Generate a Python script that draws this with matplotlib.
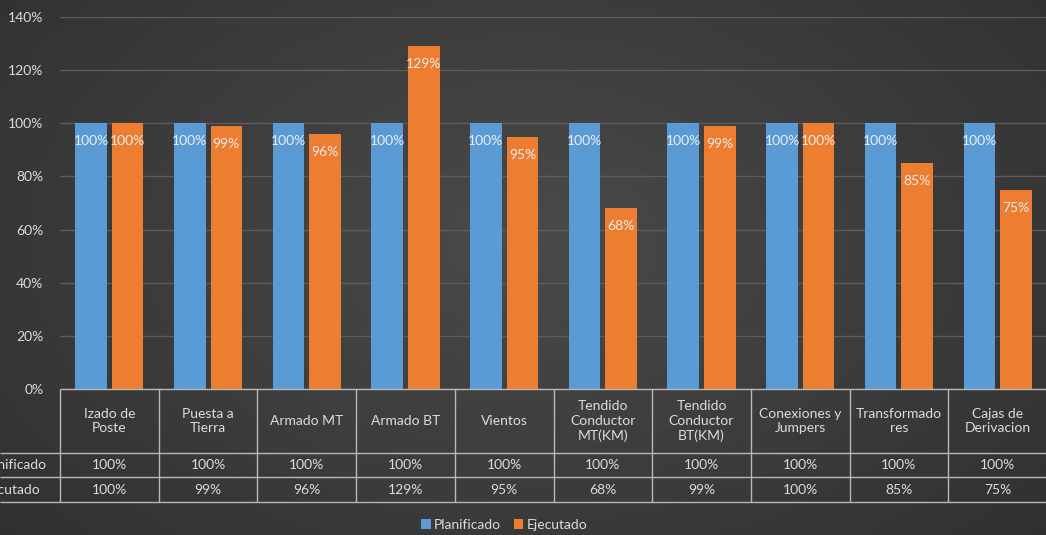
import matplotlib.pyplot as plt
import numpy as np

categories = ['Izado de\nPoste', 'Puesta a\nTierra', 'Armado MT', 'Armado BT', 'Vientos',
              'Tendido\nConductor\nMT(KM)', 'Tendido\nConductor\nBT(KM)', 'Conexiones y\nJumpers',
              'Transformado\nres', 'Cajas de\nDerivacion']
planificado = [1.00, 1.00, 1.00, 1.00, 1.00, 1.00, 1.00, 1.00, 1.00, 1.00]
ejecutado = [1.00, 0.99, 0.96, 1.29, 0.95, 0.68, 0.99, 1.00, 0.85, 0.75]
series_names = ['Planificado', 'Ejecutado']
y_ticks = [0, 0.2, 0.4, 0.6, 0.8, 1.0, 1.2, 1.4]

BLUE = '#5b9bd5'
ORANGE = '#ed7d31'
TXT = '#dcdcdc'
GRID = '#5c5c5c'
LINE = '#b8b8b8'

plt.rcParams['font.family'] = ['Lato', 'DejaVu Sans']
plt.rcParams['font.size'] = 10

W, H = 1046, 535
fig = plt.figure(figsize=(W / 100, H / 100), dpi=100)

# dark radial background
bg = fig.add_axes([0, 0, 1, 1], zorder=-10)
yy, xx = np.mgrid[0:H, 0:W]
r = np.sqrt(((xx - W * 0.5) / (W * 0.6)) ** 2 + ((yy - H * 0.45) / (H * 0.75)) ** 2)
shade = np.clip(0.29 - 0.09 * r, 0.18, 0.3)
bg.imshow(np.dstack([shade] * 3), aspect='auto', extent=[0, 1, 0, 1])
bg.axis('off')

# main chart
left = 60 / W
width = 987 / W
ax = fig.add_axes([left, 146 / H, width, 372 / H])
ax.patch.set_alpha(0)
x = np.arange(len(categories))
bw = 0.32
off = 0.185
b1 = ax.bar(x - off, planificado, bw, color=BLUE, zorder=3, label=series_names[0])
b2 = ax.bar(x + off, ejecutado, bw, color=ORANGE, zorder=3, label=series_names[1])
for bars, vals in ((b1, planificado), (b2, ejecutado)):
    for rect, v in zip(bars, vals):
        ax.annotate(f'{v:.0%}', (rect.get_x() + rect.get_width() / 2, v),
                    xytext=(0, -13), textcoords='offset points', ha='center', va='center',
                    color='#ececec', fontsize=10, zorder=4)
ax.set_xlim(-0.5, len(categories) - 0.5)
ax.set_ylim(0, 1.4)
ax.set_yticks(y_ticks)
ax.set_yticklabels([f'{t:.0%}' for t in y_ticks], color=TXT)
ax.tick_params(axis='y', length=0, pad=12)
ax.set_xticks([])
ax.grid(axis='y', color=GRID, linewidth=1, zorder=0)
for s in ax.spines.values():
    s.set_visible(False)

# data table
tb = fig.add_axes([left, 33 / H, width, 113 / H])
tb.patch.set_alpha(0)
tb.set_xlim(0, len(categories))
tb.set_ylim(113, 0)
tb.axis('off')
lw = 1.0
row_y = [0, 64, 88, 113]
label_x = -60 / 98.7
tb.hlines(row_y[0], 0, len(categories), color=LINE, lw=lw, clip_on=False)
for yv in row_y[1:]:
    tb.hlines(yv, label_x, len(categories), color=LINE, lw=lw, clip_on=False)
tb.vlines(np.arange(len(categories) + 1), row_y[0], row_y[-1], color=LINE, lw=lw, clip_on=False)
for i, c in enumerate(categories):
    tb.text(i + 0.5, 32, c, ha='center', va='center', color=TXT, linespacing=1.3)
    tb.text(i + 0.5, 76, f'{planificado[i]:.0%}', ha='center', va='center', color=TXT)
    tb.text(i + 0.5, 100.5, f'{ejecutado[i]:.0%}', ha='center', va='center', color=TXT)
tb.text(-80 / 98.7, 76, series_names[0], ha='left', va='center', color=TXT, clip_on=False)
tb.text(-80 / 98.7, 100.5, series_names[1], ha='left', va='center', color=TXT, clip_on=False)

leg = fig.legend(handles=[b1, b2], loc='center', bbox_to_anchor=(0.482, 10 / H), ncol=2,
                 frameon=False, handlelength=0.7, handleheight=0.7, handletextpad=0.25,
                 columnspacing=0.9, fontsize=10)
for t in leg.get_texts():
    t.set_color(TXT)

fig.savefig('out.png', dpi=100)
